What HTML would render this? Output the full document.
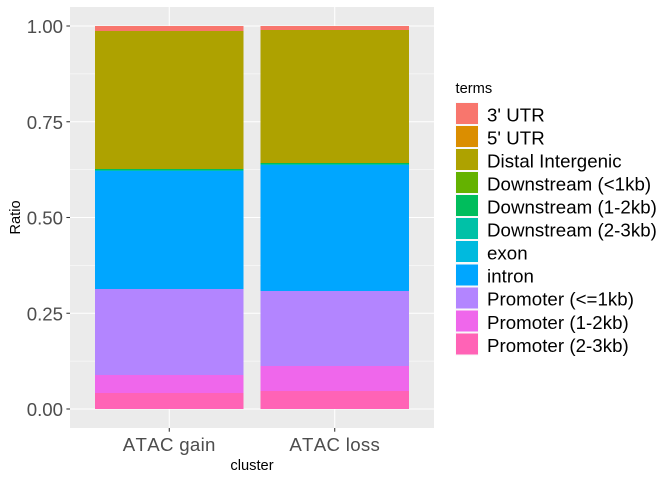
<!DOCTYPE html>
<html lang="en">
<head>
<meta charset="utf-8">
<title>Genomic annotation ratio by ATAC cluster</title>
<style>
  html, body { margin: 0; padding: 0; background: #fff; }
  svg { display: block; font-family: "Liberation Sans", Arial, sans-serif; font-kerning: none; }
</style>
</head>
<body>
<svg id="chart" xmlns="http://www.w3.org/2000/svg" width="672" height="480" viewBox="0 0 672 480">
  <rect x="0" y="0" width="672" height="480" fill="#ffffff"/>
  <rect x="70" y="7" width="364" height="421" fill="#EBEBEB" shape-rendering="crispEdges"/>
  <g id="grid"></g>
  <g id="bars" shape-rendering="crispEdges"></g>
  <g id="y-axis"></g>
  <g id="x-axis"></g>
  <text x="252" y="470" text-anchor="middle" font-size="14.67" fill="#000">cluster</text>
  <text transform="translate(20,217.5) rotate(-90)" text-anchor="middle" font-size="14.67" fill="#000">Ratio</text>
  <g id="legend">
    <text x="455.5" y="93" font-size="14.67" fill="#000">terms</text>
  </g>
</svg>
<script>
const categories = ["ATAC gain", "ATAC loss"];
const terms = ["3' UTR", "5' UTR", "Distal Intergenic", "Downstream (<1kb)", "Downstream (1-2kb)", "Downstream (2-3kb)", "exon", "intron", "Promoter (<=1kb)", "Promoter (1-2kb)", "Promoter (2-3kb)"];
const termColors = ["#F8766D", "#DB8E00", "#AEA200", "#64B200", "#00BD5C", "#00C1A7", "#00BADE", "#00A6FF", "#B385FF", "#EF67EB", "#FF63B6"];
const gainValues = [0.0130, 0, 0.36017, 0, 0.0026, 0.0026, 0, 0.30811, 0.2239, 0.0470, 0.0424];
const lossValues = [0.0105, 0, 0.3472, 0, 0.0026, 0.0026, 0, 0.32888, 0.1958, 0.0653, 0.0471];
const yTicks = [0, 0.25, 0.5, 0.75, 1];
const yTickLabels = ["0.00", "0.25", "0.50", "0.75", "1.00"];
const yMinorTicks = [0.125, 0.375, 0.625, 0.875];

const NS = "http://www.w3.org/2000/svg";
const panelLeft = 70, panelRight = 434, panelTop = 7, panelBottom = 428;
const seriesByCategory = [gainValues, lossValues];

function yScale(v) { return 409 - 383 * v; }
function xStep() { return (panelRight - panelLeft) / (categories.length + 0.2); }
function xScale(i) { return panelLeft + xStep() * (0.6 + i); }

function make(tag, attrs, parent) {
  const el = document.createElementNS(NS, tag);
  for (const k in attrs) el.setAttribute(k, attrs[k]);
  parent.appendChild(el);
  return el;
}

const gridG = document.getElementById("grid");
yMinorTicks.forEach(function (t) {
  const l = make("line", { x1: panelLeft, x2: panelRight, y1: yScale(t), y2: yScale(t), stroke: "#fff", "stroke-width": 0.55 }, gridG);
  
  
});
yTicks.forEach(function (t) {
  const l = make("line", { x1: panelLeft, x2: panelRight, y1: yScale(t), y2: yScale(t), stroke: "#fff", "stroke-width": 1.07 }, gridG);
  
  
});
categories.forEach(function (c, i) {
  const l = make("line", { x1: xScale(i), x2: xScale(i), y1: panelTop, y2: panelBottom, stroke: "#fff", "stroke-width": 1.07 }, gridG);
  
  
});

const barsG = document.getElementById("bars");
categories.forEach(function (c, i) {
  const vals = seriesByCategory[i];
  const barW = xStep() * 0.9;
  let cum = 0;
  for (let s = terms.length - 1; s >= 0; s--) {
    const y0 = yScale(cum);
    cum += vals[s];
    const y1 = yScale(cum);
    const r = make("rect", { x: xScale(i) - barW / 2, y: y1, width: barW, height: y0 - y1, fill: termColors[s] }, barsG);
    
    
  }
});

const yG = document.getElementById("y-axis");
yTicks.forEach(function (t, i) {
  const tick = make("line", { x1: 66.4, x2: panelLeft, y1: yScale(t), y2: yScale(t), stroke: "#333333", "stroke-width": 1.07 }, yG);
  
  
  const lab = make("text", { x: 63, y: yScale(t) + 7, "text-anchor": "end", "font-size": 18.67, fill: "#4D4D4D" }, yG);
  lab.textContent = yTickLabels[i];
  
  
});

const xG = document.getElementById("x-axis");
categories.forEach(function (c, i) {
  const tick = make("line", { x1: xScale(i), x2: xScale(i), y1: panelBottom, y2: 431.7, stroke: "#333333", "stroke-width": 1.07 }, xG);
  
  
  const lab = make("text", { x: xScale(i), y: 451, "text-anchor": "middle", "font-size": 18.67, "letter-spacing": 0.3, fill: "#4D4D4D" }, xG);
  lab.textContent = c;
  
  
});

const legendG = document.getElementById("legend");
terms.forEach(function (name, i) {
  const top = 102.2 + i * 23.04;
  const bg = make("rect", { x: 455.5, y: top, width: 23.04, height: 23.04, fill: "#F8F8F8" }, legendG);
  
  
  const swatch = make("rect", { x: 456, y: top + 0.8, width: 22, height: 21, fill: termColors[i], "shape-rendering": "crispEdges" }, legendG);
  
  
  const lab = make("text", { x: 487, y: top + 19.2, "font-size": 18.67, "letter-spacing": 0.05, fill: "#000" }, legendG);
  lab.textContent = name;
  
  
});
</script>
</body>
</html>
